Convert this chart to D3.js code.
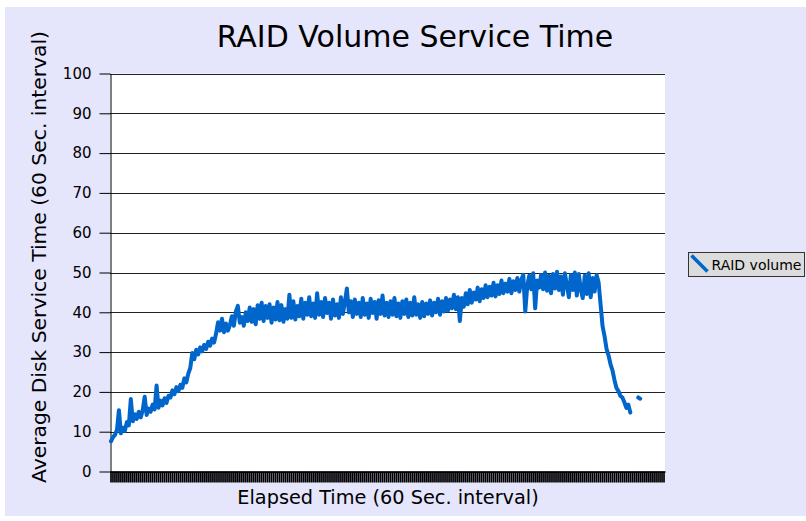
<!DOCTYPE html>
<html lang="en">
<head>
  <meta charset="UTF-8">
  <title>RAID Volume Service Time</title>
  <script src="https://d3js.org/d3.v7.min.js"></script>
  <style>
    body { margin: 0; background: #fff; }
  </style>
</head>
<body>
  <div id="root"></div>
  <script>
    // data
    const title = 'RAID Volume Service Time'
    const seriesName = 'RAID volume'
    const yTicks = [0, 10, 20, 30, 40, 50, 60, 70, 80, 90, 100]
    const values = [
      7.6, 8.6, 9.2, 10.4, 15.4, 9.6, 11.0, 10.2, 12.4, 11.6,
      18.2, 12.6, 14.4, 13.2, 15.0, 13.6, 15.4, 18.8, 14.2, 15.8,
      15.0, 16.8, 15.6, 21.6, 16.0, 17.8, 16.6, 18.4, 17.2, 19.0,
      18.6, 20.4, 19.4, 21.2, 20.2, 21.8, 21.0, 23.4, 22.4, 24.6,
      26.0, 29.8, 28.2, 30.6, 29.4, 31.2, 30.2, 31.8, 30.8, 32.6,
      31.6, 33.4, 32.4, 34.6, 37.5, 35.4, 38.4, 35.0, 37.2, 35.4,
      36.8, 39.0, 36.6, 40.2, 41.6, 37.4, 38.8, 36.6, 40.0, 37.8,
      41.2, 37.6, 40.8, 37.0, 41.8, 38.4, 42.4, 37.8, 41.6, 38.6,
      42.0, 37.4, 41.2, 38.2, 42.6, 38.0, 41.8, 37.6, 40.8, 38.4,
      44.4, 38.6, 42.8, 38.2, 41.6, 39.0, 43.4, 38.4, 42.4, 39.4,
      43.8, 39.0, 42.2, 38.6, 44.8, 39.4, 42.6, 38.8, 43.6, 39.8,
      42.4, 38.4, 43.2, 39.2, 42.0, 38.6, 43.8, 39.6, 42.6, 46.0,
      40.0, 42.8, 38.8, 43.2, 39.6, 42.4, 38.8, 43.6, 39.4, 42.2,
      38.6, 43.4, 39.8, 42.6, 38.4, 43.0, 39.6, 44.2, 39.2, 42.4,
      38.8, 42.8, 39.4, 43.6, 39.0, 42.2, 38.6, 42.8, 39.6, 43.2,
      38.8, 42.4, 39.2, 43.8, 39.4, 42.0, 38.6, 42.6, 39.0, 42.2,
      39.6, 43.0, 39.2, 42.4, 40.0, 43.4, 39.4, 42.8, 40.2, 43.6,
      40.4, 43.2, 41.0, 44.4, 40.8, 43.8, 37.8, 43.6, 41.4, 44.8,
      42.0, 45.6, 42.4, 45.0, 43.2, 46.2, 42.8, 45.8, 43.6, 46.8,
      43.8, 46.4, 44.2, 47.4, 44.0, 46.8, 44.6, 48.0, 44.8, 47.2,
      45.2, 48.4, 44.8, 47.8, 45.6, 48.6, 45.2, 48.2, 49.4, 40.2,
      46.6, 49.2, 45.8, 49.8, 41.0, 48.0, 46.2, 49.4, 45.8, 50.0,
      45.4, 49.2, 44.8, 49.6, 46.0, 50.2, 45.6, 49.0, 44.4, 49.8,
      46.8, 43.8, 49.4, 45.6, 50.0, 44.2, 49.6, 45.8, 43.6, 49.2,
      44.6, 49.8, 43.8, 48.6, 45.2, 49.4, 47.5, 42.0, 36.5, 34.0,
      30.8, 29.2, 27.0, 25.4, 23.0, 21.0, 20.2, 19.0, 18.6, 17.4,
      16.0, 16.8, 14.8, null, null, null, 18.6, 18.3, null, null,
      null, null, null, null, null, null, null, null, null, null
    ]
    const categories = values.map((d, i) => i + 1)

    const width = 806
    const height = 521
    const plot = {left: 110, right: 665, top: 73.5, bottom: 471.5}

    const svg = d3.select('#root')
      .append('svg')
      .attr('width', width)
      .attr('height', height)

    // 背景
    svg.append('rect')
      .attr('x', 5).attr('y', 7)
      .attr('width', width - 5).attr('height', 509)
      .attr('fill', '#e5e5fb')

    svg.append('rect')
      .attr('x', plot.left).attr('y', plot.top)
      .attr('width', plot.right - plot.left).attr('height', plot.bottom - plot.top)
      .attr('fill', '#fff')

    const x = d3.scaleBand()
      .domain(categories)
      .range([plot.left, plot.right])

    const y = d3.scaleLinear()
      .domain([0, 100])
      .range([plot.bottom, plot.top])

    // 网格线
    svg.append('g')
      .selectAll('line')
      .data(yTicks)
      .enter()
      .append('line')
      .attr('x1', plot.left).attr('x2', plot.right)
      .attr('y1', d => Math.round(y(d)) + 0.5).attr('y2', d => Math.round(y(d)) + 0.5)
      .attr('stroke', '#222')

    // y轴
    const yAxisG = svg.append('g')
      .attr('transform', `translate(${plot.left + 0.5},0)`)
      .call(d3.axisLeft(y).tickValues(yTicks).tickSize(11).tickPadding(8).tickSizeOuter(0))
    yAxisG.selectAll('text')
      .attr('font-family', 'DejaVu Sans')
      .attr('font-size', 15)
      .attr('fill', '#000')
    yAxisG.select('.domain').attr('stroke', '#000')

    // x轴
    const xAxisG = svg.append('g')
      .attr('transform', `translate(0,${plot.bottom})`)
      .call(d3.axisBottom(x).tickSize(11).tickFormat('').tickSizeOuter(0))
    xAxisG.selectAll('.tick line')
      .attr('stroke', '#000')
      .attr('stroke-width', 1.7)
    xAxisG.select('.domain').attr('stroke', '#000').attr('stroke-width', 1.5)

    // 折线
    const line = d3.line()
      .defined(d => d != null)
      .x((d, i) => x(categories[i]) + x.bandwidth() / 2)
      .y(d => y(d))

    svg.append('path')
      .datum(values)
      .attr('d', line)
      .attr('fill', 'none')
      .attr('stroke', '#0066cc')
      .attr('stroke-width', 4)
      .attr('stroke-linejoin', 'round')
      .attr('stroke-linecap', 'round')

    // 标题
    svg.append('text')
      .text(title)
      .attr('x', 415).attr('y', 47)
      .attr('text-anchor', 'middle')
      .attr('font-family', 'DejaVu Sans')
      .attr('font-size', 30)

    svg.append('text')
      .text('Elapsed Time (60 Sec. interval)')
      .attr('x', 388).attr('y', 504)
      .attr('text-anchor', 'middle')
      .attr('font-family', 'DejaVu Sans')
      .attr('font-size', 19.3)

    svg.append('text')
      .text('Average Disk Service Time (60 Sec. interval)')
      .attr('transform', 'translate(46, 257) rotate(-90)')
      .attr('text-anchor', 'middle')
      .attr('font-family', 'DejaVu Sans')
      .attr('font-size', 20.3)

    // 图例
    const legend = svg.append('g').attr('transform', 'translate(688.5, 252.5)')
    legend.append('rect')
      .attr('width', 116).attr('height', 24)
      .attr('fill', '#dcdcdc')
      .attr('stroke', '#333')
    legend.append('line')
      .attr('x1', 3).attr('y1', 3).attr('x2', 19).attr('y2', 19)
      .attr('stroke', '#0066cc')
      .attr('stroke-width', 3.5)
    legend.append('text')
      .text(seriesName)
      .attr('x', 23).attr('y', 17)
      .attr('font-family', 'DejaVu Sans')
      .attr('font-size', 14)
  </script>
</body>
</html>
